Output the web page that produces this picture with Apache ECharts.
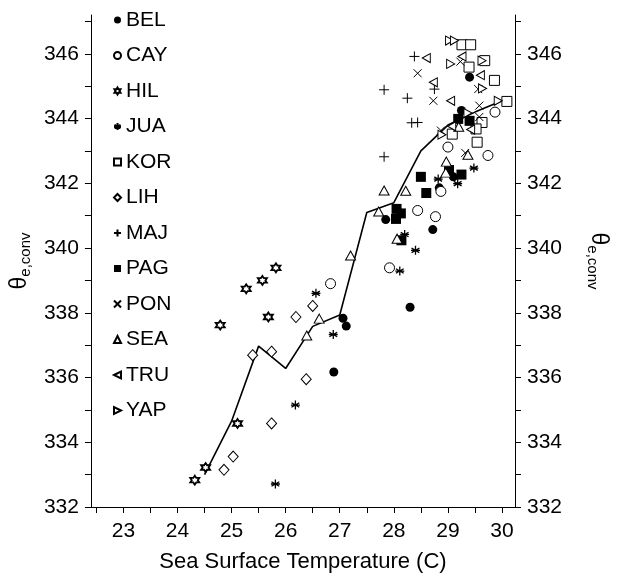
<!DOCTYPE html>
<html>
<head>
<meta charset="utf-8">
<script src="https://cdn.jsdelivr.net/npm/echarts@6/dist/echarts.min.js"></script>
<style>html,body{margin:0;padding:0;background:#fff;}#c{width:618px;height:578px;}</style>
</head>
<body>
<div id="c"></div>
<script>
// ---- data ----
const BEL = [[26.89,336.17],[27.06,337.83],[27.12,337.59],[27.85,340.88],[28.30,338.17],[28.72,340.57],[28.84,341.86],[29.10,342.20],[29.25,344.25],[29.40,345.28]];
const CAY = [[26.83,338.90],[27.92,339.39],[28.44,341.16],[28.77,340.97],[28.87,341.75],[29.00,343.12],[29.74,342.86],[29.87,344.20]];
const HIL = [[24.32,332.83],[24.52,333.22],[25.11,334.58],[24.79,337.62],[25.27,338.74],[25.57,339.00],[25.82,339.39],[25.68,337.87]];
const JUA = [[25.81,332.71],[26.18,335.15],[26.88,337.33],[26.56,338.60],[28.11,339.29],[28.20,340.42],[28.40,339.93],[28.82,342.13],[29.18,341.99],[29.48,342.47]];
const KOR = [[29.08,343.52],[29.26,346.28],[29.42,346.28],[29.39,345.59],[29.68,345.79],[29.86,345.18],[30.09,344.53],[29.63,343.88],[29.52,343.68],[29.54,343.27]];
const LIH = [[24.86,333.15],[25.03,333.56],[25.74,334.58],[25.39,336.69],[25.74,336.80],[26.19,337.87],[26.38,335.95],[26.50,338.21]];
const MAJ = [[27.82,342.82],[27.82,344.89],[28.25,344.63],[28.33,343.87],[28.44,343.88],[28.38,345.92],[28.75,344.91]];
const PAG = [[28.05,341.21],[28.13,341.07],[28.04,340.90],[28.14,340.24],[28.50,342.20],[28.60,341.70],[29.02,342.41],[29.25,342.27],[29.19,343.99],[29.40,343.93]];
const PON = [[28.44,345.40],[28.73,344.55],[28.87,343.63],[29.23,345.76],[29.32,342.94],[29.56,344.91],[29.58,344.40],[29.58,344.05]];
const SEA = [[26.39,337.30],[26.62,337.82],[27.20,339.77],[27.72,341.13],[27.82,341.78],[28.22,341.77],[28.06,340.29],[28.96,342.33],[28.97,342.67],[29.37,342.88],[29.20,343.75]];
const TRU = [[28.60,345.87],[28.73,345.12],[29.05,344.55],[29.07,343.76],[29.26,345.92],[29.60,345.34],[29.42,343.66]];
const YAP = [[29.03,346.41],[29.12,346.41],[29.05,345.69],[29.63,345.79],[29.64,344.93],[29.93,344.55],[28.89,343.50],[29.37,344.17]];
const meanX = [24.5,25.0,25.5,26.0,26.5,27.0,27.5,28.0,28.5,29.0,29.5,30.0];
const meanY = [333.0,334.65,336.97,336.28,337.58,337.93,341.1,341.4,343.0,343.8,344.2,344.55];
const xTickLabels = [23,24,25,26,27,28,29,30];
const xTicks = [22.5,23,23.5,24,24.5,25,25.5,26,26.5,27,27.5,28,28.5,29,29.5,30];
const yTickLabels = [332,334,336,338,340,342,344,346];
const yTicks = [332,333,334,335,336,337,338,339,340,341,342,343,344,345,346,347];

// ---- symbols ----
const HEX = 'path://M0,-5L1.443,-2.5L4.33,-2.5L2.887,0L4.33,2.5L1.443,2.5L0,5L-1.443,2.5L-4.33,2.5L-2.887,0L-4.33,-2.5L-1.443,-2.5Z';
const AST = 'path://M0,-5L0,5M-4.33,-2.5L4.33,2.5M-4.33,2.5L4.33,-2.5M-5,0L5,0';
const PLUS = 'path://M0,-5L0,5M-5,0L5,0';
const CROSS = 'path://M-4,-4L4,4M-4,4L4,-4';
const LTRI = 'path://M-5,0L5,-5L5,5Z';
const RTRI = 'path://M5,0L-5,-5L-5,5Z';

const FONT = 'Liberation Sans, Arial, sans-serif';
function sc(name, data, symbol, size, filled, bw) {
  return {
    name: name, type: 'scatter', data: data, symbol: symbol, symbolSize: size,
    itemStyle: { color: filled ? '#000' : '#fff', borderColor: '#000', borderWidth: bw == null ? 1 : bw, opacity: 1 },
    z: 3
  };
}
const series = [
  sc('BEL', BEL, 'circle', 9, true, 0),
  sc('CAY', CAY, 'circle', 10, false, 1),
  sc('HIL', HIL, HEX, 9, false, 1.8),
  sc('JUA', JUA, AST, 9, true, 1.3),
  sc('KOR', KOR, 'rect', 10, false, 1),
  sc('LIH', LIH, 'diamond', [10,11], false, 1),
  sc('MAJ', MAJ, PLUS, 10, true, 1),
  sc('PAG', PAG, 'rect', 10, true, 0),
  sc('PON', PON, CROSS, 8, true, 1),
  sc('SEA', SEA, 'triangle', [10,9], false, 1),
  sc('TRU', TRU, LTRI, [8,9], false, 1),
  sc('YAP', YAP, RTRI, [8,9], false, 1),
  {
    type: 'line', data: meanX.map((x, i) => [x, meanY[i]]), showSymbol: false, symbol: 'none',
    lineStyle: { color: '#000', width: 1.6 }, z: 2, silent: true
  }
];

const axisCommon = {
  axisLine: { show: true, lineStyle: { color: '#000', width: 1 } },
  splitLine: { show: false },
  axisLabel: { color: '#000', fontSize: 21, fontFamily: FONT },
  axisTick: { show: true, length: 6, lineStyle: { color: '#000' } }
};
const nameRich = {
  a: { fontSize: 23, fontFamily: FONT, color: '#000' },
  b: { fontSize: 15, fontFamily: FONT, color: '#000', padding: [12,0,0,0] }
};

const chart = echarts.init(document.getElementById('c'), null, { renderer: 'canvas' });
chart.setOption({
  animation: false,
  backgroundColor: '#fff',
  grid: { left: 87, right: 100, top: 15, bottom: 70, containLabel: false },
  legend: {
    orient: 'vertical', left: 108, top: 3,
    data: ['BEL','CAY','HIL','JUA','KOR','LIH','MAJ','PAG','PON','SEA','TRU','YAP'],
    itemWidth: 7, itemHeight: 7, itemGap: 11.5, itemTextGap: 6,
    textStyle: { color: '#000', fontSize: 21, fontFamily: FONT, lineHeight: 24 },
    selectedMode: false
  },
  xAxis: {
    type: 'value', min: 22.4, max: 30.24,
    name: 'Sea Surface Temperature (C)', nameLocation: 'middle', nameGap: 44,
    nameTextStyle: { color: '#000', fontSize: 22, fontFamily: FONT },
    axisLine: axisCommon.axisLine, splitLine: axisCommon.splitLine,
    axisLabel: Object.assign({}, axisCommon.axisLabel, { margin: 14, customValues: xTickLabels }),
    axisTick: Object.assign({}, axisCommon.axisTick, { customValues: xTicks })
  },
  yAxis: [
    {
      type: 'value', min: 332, max: 347.2, position: 'left',
      name: '{a|θ}{b|e,conv}', nameLocation: 'middle', nameGap: 52, nameRotate: 90,
      nameTextStyle: { color: '#000', rich: nameRich },
      axisLine: axisCommon.axisLine, splitLine: axisCommon.splitLine,
      axisLabel: Object.assign({}, axisCommon.axisLabel, { margin: 12, customValues: yTickLabels }),
      axisTick: Object.assign({}, axisCommon.axisTick, { customValues: yTicks })
    },
    {
      type: 'value', min: 332, max: 347.2, position: 'right',
      name: '{a|θ}{b|e,conv}', nameLocation: 'middle', nameGap: 70, nameRotate: -90,
      nameTextStyle: { color: '#000', rich: nameRich },
      axisLine: axisCommon.axisLine, splitLine: axisCommon.splitLine,
      axisLabel: Object.assign({}, axisCommon.axisLabel, { margin: 12, customValues: yTickLabels }),
      axisTick: Object.assign({}, axisCommon.axisTick, { customValues: yTicks })
    }
  ],
  series: series
});
</script>
</body>
</html>
